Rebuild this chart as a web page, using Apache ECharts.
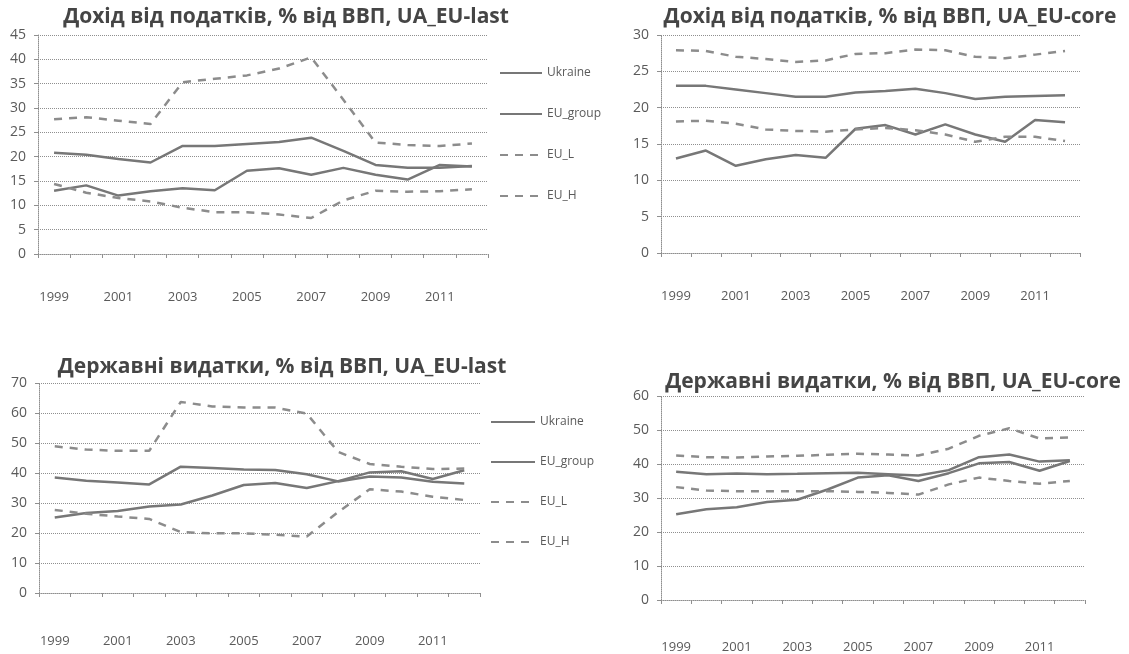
<!DOCTYPE html>
<html>
<head>
<meta charset="utf-8">
<title>Дохід від податків та державні видатки</title>
<script src="https://cdn.jsdelivr.net/npm/echarts@6/dist/echarts.min.js"></script>
<style>
    html, body { margin: 0; padding: 0; background: #fff; }
    #main { width: 1129px; height: 654px; }
</style>
</head>
<body>
<div id="main"></div>
<script>
// роки (категорії)
const years = ['1999', '2000', '2001', '2002', '2003', '2004', '2005', '2006', '2007', '2008', '2009', '2010', '2011', '2012'];
const seriesNames = ['Ukraine', 'EU_group', 'EU_L', 'EU_H'];

// Дохід від податків, % від ВВП
const taxUkraine   = [13.0, 14.1, 12.0, 12.9, 13.5, 13.1, 17.1, 17.6, 16.3, 17.7, 16.3, 15.3, 18.3, 18.0];
const taxLastGroup = [20.8, 20.4, 19.5, 18.8, 22.2, 22.2, 22.6, 23.0, 23.9, 21.2, 18.3, 17.7, 17.7, 18.1];
const taxLastL     = [14.4, 12.6, 11.5, 10.8, 9.5, 8.6, 8.6, 8.1, 7.4, 11.0, 13.0, 12.8, 12.9, 13.3];
const taxLastH     = [27.7, 28.1, 27.4, 26.7, 35.3, 36.0, 36.7, 38.1, 40.4, 31.7, 22.9, 22.4, 22.2, 22.7];
const taxCoreGroup = [23.0, 23.0, 22.5, 22.0, 21.5, 21.5, 22.1, 22.3, 22.6, 22.0, 21.2, 21.5, 21.6, 21.7];
const taxCoreL     = [18.1, 18.2, 17.8, 17.0, 16.8, 16.7, 17.0, 17.2, 16.9, 16.3, 15.3, 16.0, 16.0, 15.4];
const taxCoreH     = [27.9, 27.8, 27.0, 26.7, 26.3, 26.5, 27.4, 27.5, 28.0, 27.9, 27.0, 26.8, 27.3, 27.8];

// Державні видатки, % від ВВП
const spendUkraine   = [25.2, 26.7, 27.3, 28.8, 29.5, 32.5, 36.0, 36.7, 35.0, 37.3, 40.2, 40.6, 38.0, 40.9];
const spendLastGroup = [38.5, 37.4, 36.8, 36.2, 42.1, 41.7, 41.2, 41.0, 39.6, 37.2, 38.8, 38.5, 37.1, 36.5];
const spendLastL     = [27.7, 26.4, 25.5, 24.7, 20.3, 19.9, 19.9, 19.4, 18.8, 27.0, 34.6, 33.8, 32.1, 31.0];
const spendLastH     = [48.9, 47.8, 47.4, 47.4, 63.7, 62.2, 61.8, 61.8, 59.8, 47.0, 43.0, 42.1, 41.3, 41.5];
const spendCoreGroup = [37.7, 37.0, 37.2, 37.0, 37.1, 37.3, 37.4, 37.0, 36.6, 38.2, 42.0, 42.8, 40.7, 41.1];
const spendCoreL     = [33.2, 32.2, 32.0, 32.0, 32.0, 32.0, 31.8, 31.5, 31.0, 34.0, 36.0, 35.0, 34.2, 35.0];
const spendCoreH     = [42.5, 42.0, 41.9, 42.2, 42.4, 42.7, 43.0, 42.8, 42.5, 44.5, 48.3, 50.5, 47.5, 47.8];

const FONT = '"Open Sans", "Noto Sans", sans-serif';
const LABEL_COLOR = '#5a5a5a';
const GRID_COLOR = '#8f8f8f';

document.addEventListener('DOMContentLoaded', function() {
    const chart = echarts.init(document.getElementById('main'));

    function makeX(gridIndex, margin) {
        return {
            type: 'category',
            gridIndex: gridIndex,
            data: years,
            boundaryGap: true,
            axisLine: { lineStyle: { color: GRID_COLOR, type: 'dotted', width: 1 } },
            axisTick: { show: true, interval: 0, length: 4, lineStyle: { color: GRID_COLOR } },
            axisLabel: { interval: 1, margin: margin, color: LABEL_COLOR, fontFamily: FONT, fontSize: 13 }
        };
    }

    function makeY(gridIndex, max, interval) {
        return {
            type: 'value',
            gridIndex: gridIndex,
            min: 0,
            max: max,
            interval: interval,
            axisLine: { show: true, lineStyle: { color: GRID_COLOR, type: 'dotted', width: 1 } },
            axisTick: { show: true, length: 4, lineStyle: { color: GRID_COLOR } },
            axisLabel: { margin: 12, color: LABEL_COLOR, fontFamily: FONT, fontSize: 14 },
            splitLine: { lineStyle: { color: GRID_COLOR, type: 'dotted', width: 1 } }
        };
    }

    function line(name, idx, data, dashed) {
        return {
            name: name,
            type: 'line',
            xAxisIndex: idx,
            yAxisIndex: idx,
            data: data,
            symbol: 'none',
            smooth: false,
            lineStyle: dashed
                ? { color: '#8c8c8c', width: 2.5, type: [8, 7] }
                : { color: '#777777', width: 2.5 },
            itemStyle: { color: dashed ? '#8c8c8c' : '#777777' }
        };
    }

    const titleStyle = { fontFamily: FONT, fontSize: 21, fontWeight: 'bold', color: '#454545' };
    const legendText = { fontFamily: FONT, fontSize: 12, color: LABEL_COLOR };

    const option = {
        animation: false,
        backgroundColor: '#ffffff',
        title: [
            { text: 'Дохід від податків, % від ВВП, UA_EU-last', left: 281, top: 2, textAlign: 'center', textStyle: titleStyle },
            { text: 'Дохід від податків, % від ВВП, UA_EU-core', left: 885, top: 2, textAlign: 'center', textStyle: titleStyle },
            { text: 'Державні видатки, % від ВВП, UA_EU-last', left: 277, top: 352, textAlign: 'center', textStyle: titleStyle },
            { text: 'Державні видатки, % від ВВП, UA_EU-core', left: 888, top: 367, textAlign: 'center', textStyle: titleStyle }
        ],
        legend: [
            {
                data: seriesNames, orient: 'vertical', left: 494, top: 62,
                itemWidth: 42, itemHeight: 14, itemGap: 29, textStyle: legendText,
                itemStyle: { opacity: 0 }
            },
            {
                data: seriesNames, orient: 'vertical', left: 485, top: 411,
                itemWidth: 44, itemHeight: 14, itemGap: 28, textStyle: legendText,
                itemStyle: { opacity: 0 }
            }
        ],
        grid: [
            { left: 38, top: 35, width: 450, height: 219 },
            { left: 661, top: 35, width: 419, height: 218 },
            { left: 39, top: 383, width: 441, height: 210 },
            { left: 661, top: 396, width: 424, height: 204 }
        ],
        xAxis: [makeX(0, 37), makeX(1, 37), makeX(2, 42), makeX(3, 41)],
        yAxis: [makeY(0, 45, 5), makeY(1, 30, 5), makeY(2, 70, 10), makeY(3, 60, 10)],
        series: [
            line('Ukraine', 0, taxUkraine, false),
            line('EU_group', 0, taxLastGroup, false),
            line('EU_L', 0, taxLastL, true),
            line('EU_H', 0, taxLastH, true),

            line('Ukraine', 1, taxUkraine, false),
            line('EU_group', 1, taxCoreGroup, false),
            line('EU_L', 1, taxCoreL, true),
            line('EU_H', 1, taxCoreH, true),

            line('Ukraine', 2, spendUkraine, false),
            line('EU_group', 2, spendLastGroup, false),
            line('EU_L', 2, spendLastL, true),
            line('EU_H', 2, spendLastH, true),

            line('Ukraine', 3, spendUkraine, false),
            line('EU_group', 3, spendCoreGroup, false),
            line('EU_L', 3, spendCoreL, true),
            line('EU_H', 3, spendCoreH, true)
        ]
    };

    chart.setOption(option);

    window.addEventListener('resize', function() {
        chart.resize();
    });
});
</script>
</body>
</html>
